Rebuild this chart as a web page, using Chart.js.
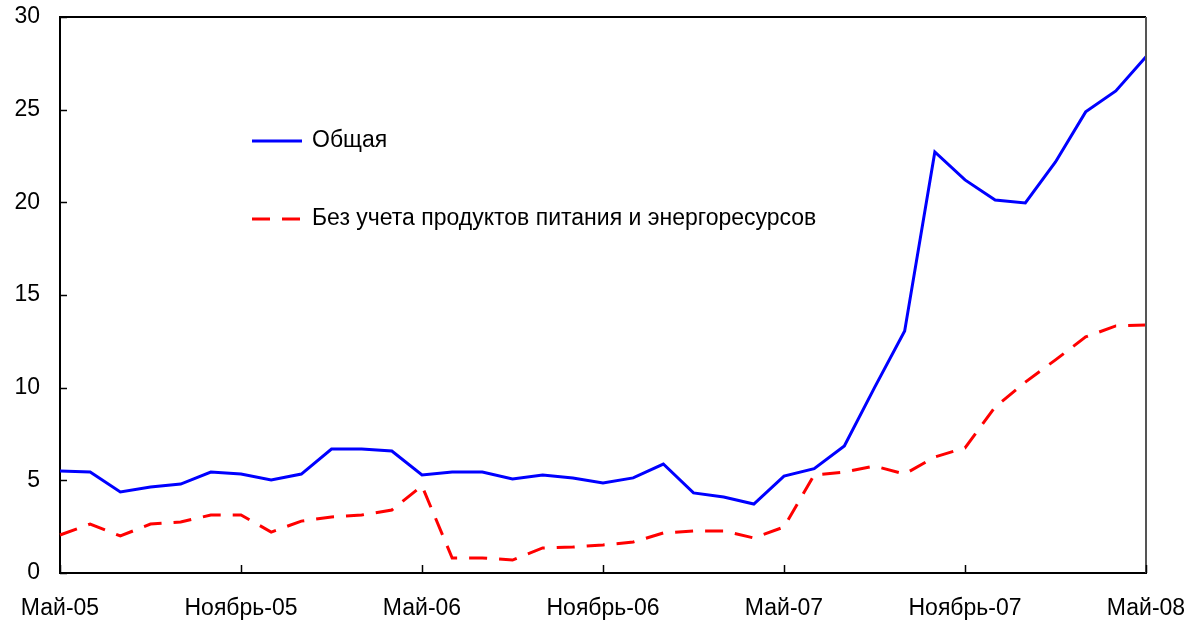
<!DOCTYPE html>
<html>
<head>
<meta charset="utf-8">
<script src="https://cdn.jsdelivr.net/npm/chart.js@4.4.0/dist/chart.umd.min.js"></script>
<style>
html,body{margin:0;padding:0;background:#fff;}
#wrap{position:relative;width:1197px;height:625px;}
</style>
</head>
<body>
<div id="wrap"><canvas id="c" width="1197" height="625"></canvas></div>
<script>
const months = ['Май','Июнь','Июль','Август','Сентябрь','Октябрь','Ноябрь','Декабрь','Январь','Февраль','Март','Апрель'];
const categories = [];
for (let y = 5; y <= 8; y++) {
  for (let m = 0; m < 12; m++) {
    if (y === 8 && m > 0) break;
    const yy = m < 8 ? y : y + 1;
    categories.push(months[m] + '-0' + yy);
  }
}
const totalSeries = [5.5,5.45,4.37,4.64,4.8,5.45,5.34,5.02,5.34,6.69,6.69,6.58,
  5.29,5.45,5.45,5.07,5.29,5.13,4.86,5.13,5.88,4.32,4.1,3.72,
  5.23,5.63,6.85,10.0,13.06,22.72,21.21,20.13,19.97,22.18,24.88,26.01,27.85];
const coreSeries = [2.05,2.64,2.0,2.64,2.75,3.13,3.13,2.21,2.8,3.02,3.13,3.4,
  4.7,0.81,0.81,0.7,1.35,1.4,1.51,1.67,2.16,2.27,2.27,1.89,
  2.48,5.29,5.45,5.77,5.34,6.26,6.75,8.96,10.3,11.5,12.74,13.33,13.38];
const seriesNames = ['Общая','Без учета продуктов питания и энергоресурсов'];
const yTicks = [0,5,10,15,20,25,30];
const labelEvery = 6;

const FONT = '"Liberation Sans", Arial, sans-serif';
const FSIZE = 23;

const framePlugin = {
  id: 'frame',
  afterDraw(chart) {
    const ctx = chart.ctx, a = chart.chartArea;
    const xs = chart.scales.x, ys = chart.scales.y;
    ctx.save();
    ctx.strokeStyle = '#000'; ctx.lineWidth = 2;
    ctx.beginPath(); ctx.moveTo(a.left, a.top); ctx.lineTo(a.right, a.top); ctx.stroke();
    ctx.strokeStyle = '#555';
    ctx.beginPath(); ctx.moveTo(a.right, a.top); ctx.lineTo(a.right, a.bottom); ctx.stroke();
    ctx.strokeStyle = '#000'; ctx.lineWidth = 1.5;
    for (let i = 0; i < categories.length; i += labelEvery) {
      const px = Math.round(xs.getPixelForValue(i)) + 0.5;
      ctx.beginPath(); ctx.moveTo(px, a.bottom); ctx.lineTo(px, a.bottom - 8); ctx.stroke();
    }
    yTicks.forEach(v => {
      const py = Math.round(ys.getPixelForValue(v)) + 0.5;
      ctx.beginPath(); ctx.moveTo(a.left, py); ctx.lineTo(a.left + 7, py); ctx.stroke();
    });
    const items = [
      {name: seriesNames[0], color: '#0000ff', dash: [], y: 141},
      {name: seriesNames[1], color: '#ff0000', dash: [18, 12], y: 219}
    ];
    items.forEach(it => {
      ctx.strokeStyle = it.color; ctx.lineWidth = 3; ctx.setLineDash(it.dash);
      ctx.beginPath(); ctx.moveTo(252, it.y); ctx.lineTo(302, it.y); ctx.stroke();
      ctx.setLineDash([]);
      ctx.fillStyle = '#000'; ctx.font = FSIZE + 'px ' + FONT;
      ctx.textBaseline = 'middle'; ctx.textAlign = 'left';
      ctx.fillText(it.name, 312, it.y);
    });
    ctx.restore();
  }
};

new Chart(document.getElementById('c'), {
  type: 'line',
  data: {
    labels: categories,
    datasets: [
      {label: seriesNames[0], data: totalSeries, borderColor: '#0000ff', borderWidth: 3,
       pointRadius: 0, tension: 0, fill: false},
      {label: seriesNames[1], data: coreSeries, borderColor: '#ff0000', borderWidth: 3,
       borderDash: [18, 12], pointRadius: 0, tension: 0, fill: false}
    ]
  },
  options: {
    responsive: false,
    animation: false,
    layout: {padding: {top: 17, right: 51, left: 0, bottom: 0}},
    plugins: {legend: {display: false}, tooltip: {enabled: false}, title: {display: false}},
    scales: {
      x: {
        type: 'category',
        offset: false,
        grid: {display: false, drawTicks: false},
        border: {display: true, color: '#000', width: 2},
        ticks: {
          autoSkip: false, maxRotation: 0, padding: 22, color: '#000',
          font: {family: FONT, size: FSIZE},
          callback: (v, i) => (i % labelEvery === 0 ? categories[i] : null)
        },
        afterFit: s => { s.height = 52; s.paddingLeft = 0; s.paddingRight = 0; }
      },
      y: {
        min: 0, max: 30,
        afterBuildTicks: s => { s.ticks = yTicks.map(v => ({value: v})); },
        grid: {display: false, drawTicks: false},
        border: {display: true, color: '#000', width: 2},
        ticks: {padding: 20, color: '#000', font: {family: FONT, size: FSIZE}},
        afterFit: s => { s.width = 60; s.paddingTop = 0; s.paddingBottom = 0; }
      }
    }
  },
  plugins: [framePlugin]
});
</script>
</body>
</html>
